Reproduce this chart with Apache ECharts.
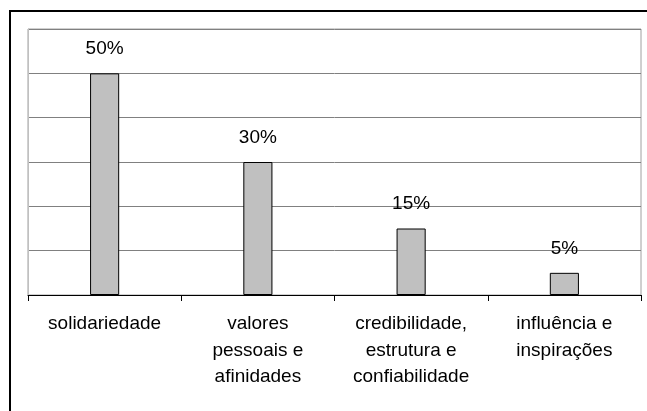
<!DOCTYPE html>
<html>
<head>
<meta charset="utf-8">
<script src="https://cdn.jsdelivr.net/npm/echarts@6/dist/echarts.min.js"></script>
<style>
  html, body { margin: 0; padding: 0; background: #fff; }
  #chart { width: 647px; height: 411px; }
</style>
</head>
<body>
<div id="chart"></div>
<script>
const categories = [
  'solidariedade',
  'valores\npessoais e\nafinidades',
  'credibilidade,\nestrutura e\nconfiabilidade',
  'influência e\ninspirações'
]
const percentValues = [50, 30, 15, 5]
const axisMax = 60
const axisStep = 10

const font = 'Arial, "Liberation Sans", sans-serif'
const chart = echarts.init(document.getElementById('chart'))

chart.setOption({
  animation: false,
  backgroundColor: '#fff',
  graphic: [
    // outer frame: only its top and left edges fall inside the picture
    {
      type: 'line',
      shape: { x1: 9, y1: 11, x2: 700, y2: 11 },
      style: { stroke: '#000', lineWidth: 2 },
      silent: true
    },
    {
      type: 'line',
      shape: { x1: 10, y1: 10, x2: 10, y2: 500 },
      style: { stroke: '#000', lineWidth: 2 },
      silent: true
    }
  ],
  grid: {
    left: 28,
    right: 6,
    top: 29,
    bottom: 116,
    show: true,
    borderColor: '#a0a0a0',
    borderWidth: 1
  },
  xAxis: {
    type: 'category',
    data: categories,
    axisLine: { show: true, lineStyle: { color: '#000', width: 1 } },
    axisTick: { show: true, length: 6, lineStyle: { color: '#000' } },
    axisLabel: {
      interval: 0,
      margin: 16,
      color: '#000',
      fontFamily: font,
      fontSize: 19,
      lineHeight: 26.5
    }
  },
  yAxis: {
    type: 'value',
    min: 0,
    max: axisMax,
    interval: axisStep,
    axisLabel: { show: false },
    axisTick: { show: false },
    axisLine: { show: true, lineStyle: { color: '#c0c0c0' } },
    splitLine: { show: true, lineStyle: { color: '#808080', width: 1 } }
  },
  series: [
    {
      type: 'bar',
      data: percentValues,
      barWidth: '19%',
      itemStyle: { color: '#c0c0c0', borderColor: '#000', borderWidth: 1 },
      label: {
        show: true,
        position: 'top',
        distance: 15,
        formatter: '{c}%',
        color: '#000',
        fontFamily: font,
        fontSize: 19
      }
    }
  ]
})
</script>
</body>
</html>
